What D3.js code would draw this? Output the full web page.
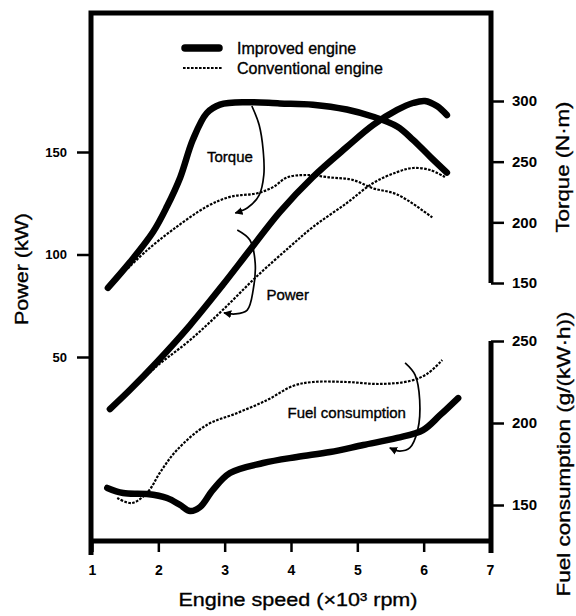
<!DOCTYPE html>
<html>
<head>
<meta charset="utf-8">
<script src="https://cdn.jsdelivr.net/npm/d3@7"></script>
<style>
  body { margin: 0; background: #fff; }
  svg { display: block; font-family: "Liberation Sans", Arial, Helvetica, sans-serif; }
  .heavy { stroke: #000; stroke-width: 0.35px; }
</style>
</head>
<body>
<svg id="chart"></svg>
<script>
const width = 576;
const height = 616;

// engine speed in x10^3 rpm
const torqueImprovedRpm = [1.24, 1.57, 1.92, 2.13, 2.33, 2.52, 2.73, 2.93, 3.34, 3.83, 4.33, 4.84, 5.24, 5.6, 5.84, 6.1, 6.35];
const torqueImproved    = [146, 167, 192, 213, 237, 268, 290, 297, 299, 298, 297, 293, 287, 279, 268, 254, 241];

const torqueConvRpm = [1.54, 1.83, 2.22, 2.73, 3.08, 3.49, 3.73, 3.94, 4.24, 4.59, 4.93, 5.24, 5.6, 6.13];
const torqueConv    = [162, 177, 194, 213, 221, 224, 229, 237, 239, 237, 235, 228, 223, 204];

const powerImprovedRpm = [1.27, 1.57, 1.98, 2.48, 2.97, 3.38, 3.83, 4.33, 4.84, 5.24, 5.6, 5.84, 6.02, 6.2, 6.35];
const powerImproved    = [24.6, 33.9, 47.6, 65.6, 85.1, 102.2, 120.7, 137.8, 152.4, 163.2, 170.5, 173.9, 174.9, 172.4, 168];

const powerConvRpm = [1.42, 1.98, 2.48, 2.97, 3.49, 3.98, 4.33, 4.84, 5.24, 5.6, 5.84, 6.1, 6.32];
const powerConv    = [29, 45.6, 58.3, 72.9, 89.5, 103.7, 113.4, 125.1, 134.9, 140.2, 142.2, 141.2, 137.8];

const fuelImprovedRpm = [1.23, 1.47, 1.83, 2.13, 2.33, 2.48, 2.63, 2.82, 3.08, 3.58, 4.09, 4.59, 5.09, 5.6, 5.99, 6.25, 6.52];
const fuelImproved    = [160.4, 157.3, 156.7, 154.3, 150, 146.3, 148.8, 159.1, 169.5, 175.6, 179.3, 182.3, 186.6, 190.9, 195.7, 204.9, 215.2];

const fuelConvRpm = [1.38, 1.6, 1.84, 2.03, 2.28, 2.73, 3.19, 3.64, 4.03, 4.33, 4.84, 5.34, 5.79, 6.05, 6.28];
const fuelConv    = [154.3, 151.2, 157.9, 170.1, 183.5, 198.8, 206.1, 214, 222.6, 225, 225, 223.8, 225.6, 229.9, 238.4];

// callout leaders (rpm, value on the matching axis)
const torqueCalloutRpm = [3.41, 3.52, 3.58, 3.59, 3.52, 3.34, 3.16];
const torqueCallout    = [295.9, 280.2, 259.6, 239, 222.5, 211.8, 207.7];
const powerCalloutRpm  = [3.19, 3.38, 3.46, 3.43, 3.34, 3.16, 2.99];
const powerCallout     = [112, 107.1, 95.9, 82.7, 72.9, 71, 71.5];
const fuelCalloutRpm   = [5.72, 5.87, 5.94, 5.91, 5.79, 5.64, 5.49];
const fuelCallout      = [236.6, 229.3, 214, 195.7, 184.8, 182.9, 184.8];

const xTicks = [1, 2, 3, 4, 5, 6, 7];
const powerTicks = [50, 100, 150];
const torqueTicks = [150, 200, 250, 300];
const fuelTicks = [150, 200, 250];

// frame
const frameL = 91, frameR = 491, frameT = 13, frameB = 541;

const svg = d3.select("#chart")
  .attr("width", width)
  .attr("height", height);

svg.append("rect").attr("width", width).attr("height", height).attr("fill", "#fff");

const defs = svg.append("defs");
defs.append("marker")
  .attr("id", "arrow")
  .attr("viewBox", "0 0 10 10")
  .attr("refX", 9).attr("refY", 5)
  .attr("markerWidth", 8).attr("markerHeight", 8)
  .attr("markerUnits", "userSpaceOnUse")
  .attr("orient", "auto")
  .append("path")
  .attr("d", "M0,0 L10,5 L0,10 z")
  .attr("fill", "#000");

const x = d3.scaleLinear().domain([1, 7]).range([92, 490]);
const yPower = d3.scaleLinear().domain([50, 150]).range([357, 152]);
const yTorque = d3.scaleLinear().domain([150, 300]).range([283, 101]);
const yFuel = d3.scaleLinear().domain([150, 250]).range([505, 341]);

const makeLine = (ys) => d3.line()
  .x(d => x(d[0]))
  .y(d => ys(d[1]))
  .curve(d3.curveCatmullRom.alpha(0.5));

// frame lines
const frame = svg.append("g")
  .attr("fill", "none")
  .attr("stroke", "#000")
  .attr("stroke-width", 5)
  .attr("stroke-linejoin", "miter");

frame.append("path").attr("d", `M${frameL},${frameB + 14} L${frameL},${frameT} L${frameR},${frameT} L${frameR},${yTorque(150)}`);
frame.append("path").attr("d", `M${frameL},${frameB} L${frameR},${frameB}`);
frame.append("path").attr("d", `M${frameR},${yFuel(250)} L${frameR},${frameB + 12}`);

// axes
function styleAxis(g, size) {
  g.select(".domain").remove();
  g.selectAll(".tick line").attr("stroke", "#000").attr("stroke-width", 2.5);
  g.selectAll(".tick text")
    .attr("fill", "#000")
    .style("font-size", size + "px")
    .style("font-weight", "bold");
}

svg.append("g")
  .attr("transform", `translate(${frameL},0)`)
  .call(d3.axisLeft(yPower).tickValues(powerTicks).tickSize(14).tickPadding(10))
  .call(g => styleAxis(g, 13));

svg.append("g")
  .attr("transform", `translate(${frameR},0)`)
  .call(d3.axisRight(yTorque).tickValues(torqueTicks).tickSize(13).tickPadding(8))
  .call(g => styleAxis(g, 15));

svg.append("g")
  .attr("transform", `translate(${frameR},0)`)
  .call(d3.axisRight(yFuel).tickValues(fuelTicks).tickSize(13).tickPadding(8))
  .call(g => styleAxis(g, 15));

svg.append("g")
  .attr("transform", `translate(0,${frameB})`)
  .call(d3.axisBottom(x).tickValues(xTicks).tickFormat(d3.format("d")).tickSize(11).tickPadding(13))
  .call(g => styleAxis(g, 14));

// axis titles
svg.append("text")
  .attr("class", "heavy")
  .attr("x", 298).attr("y", 606)
  .attr("text-anchor", "middle")
  .attr("textLength", 239).attr("lengthAdjust", "spacingAndGlyphs")
  .style("font-size", "19px")
  .text("Engine speed (×10³ rpm)");

const vTitle = (cx, cy, len, label) => svg.append("text")
  .attr("class", "heavy")
  .attr("transform", `translate(${cx},${cy}) rotate(-90)`)
  .attr("text-anchor", "middle")
  .attr("dy", "0.35em")
  .attr("textLength", len).attr("lengthAdjust", "spacingAndGlyphs")
  .style("font-size", "19px")
  .text(label);

vTitle(21, 269, 112, "Power (kW)");
vTitle(562, 167, 131, "Torque (N·m)");
vTitle(563, 454, 285, "Fuel consumption (g/(kW·h))");

// curves
const curves = [
  { xs: torqueConvRpm, ys: torqueConv, scale: yTorque, thick: false },
  { xs: powerConvRpm, ys: powerConv, scale: yPower, thick: false },
  { xs: fuelConvRpm, ys: fuelConv, scale: yFuel, thick: false },
  { xs: torqueImprovedRpm, ys: torqueImproved, scale: yTorque, thick: true },
  { xs: powerImprovedRpm, ys: powerImproved, scale: yPower, thick: true },
  { xs: fuelImprovedRpm, ys: fuelImproved, scale: yFuel, thick: true }
];

svg.append("g").selectAll("path")
  .data(curves)
  .join("path")
  .attr("d", c => makeLine(c.scale)(d3.zip(c.xs, c.ys)))
  .attr("fill", "none")
  .attr("stroke", "#000")
  .attr("stroke-width", c => c.thick ? 6.5 : 2.2)
  .attr("stroke-dasharray", c => c.thick ? null : "2.6,1.4")
  .attr("stroke-linecap", c => c.thick ? "round" : "butt");

// callouts
const callouts = [
  { xs: torqueCalloutRpm, ys: torqueCallout, scale: yTorque },
  { xs: powerCalloutRpm, ys: powerCallout, scale: yPower },
  { xs: fuelCalloutRpm, ys: fuelCallout, scale: yFuel }
];

svg.append("g").selectAll("path")
  .data(callouts)
  .join("path")
  .attr("d", c => makeLine(c.scale)(d3.zip(c.xs, c.ys)))
  .attr("fill", "none")
  .attr("stroke", "#000")
  .attr("stroke-width", 1.7)
  .attr("marker-end", "url(#arrow)");

const notes = [
  { t: "Torque", rpm: 3.08, v: 254, scale: yTorque },
  { t: "Power", rpm: 3.95, v: 80.2, scale: yPower },
  { t: "Fuel consumption", rpm: 4.84, v: 206.1, scale: yFuel }
];

svg.append("g").selectAll("text")
  .data(notes)
  .join("text")
  .attr("class", "heavy")
  .attr("x", d => x(d.rpm))
  .attr("y", d => d.scale(d.v))
  .attr("dy", "0.35em")
  .attr("text-anchor", "middle")
  .style("font-size", "15px")
  .text(d => d.t);

// legend
const legend = svg.append("g");
legend.append("line")
  .attr("x1", 185).attr("x2", 219).attr("y1", 48).attr("y2", 48)
  .attr("stroke", "#000").attr("stroke-width", 7.5).attr("stroke-linecap", "round");
legend.append("line")
  .attr("x1", 183).attr("x2", 222).attr("y1", 68).attr("y2", 68)
  .attr("stroke", "#000").attr("stroke-width", 2.2).attr("stroke-dasharray", "2.6,1.4");
legend.append("text")
  .attr("class", "heavy")
  .attr("x", 237).attr("y", 48).attr("dy", "0.35em")
  .style("font-size", "16px")
  .text("Improved engine");
legend.append("text")
  .attr("class", "heavy")
  .attr("x", 237).attr("y", 68).attr("dy", "0.35em")
  .style("font-size", "16px")
  .text("Conventional engine");
</script>
</body>
</html>
